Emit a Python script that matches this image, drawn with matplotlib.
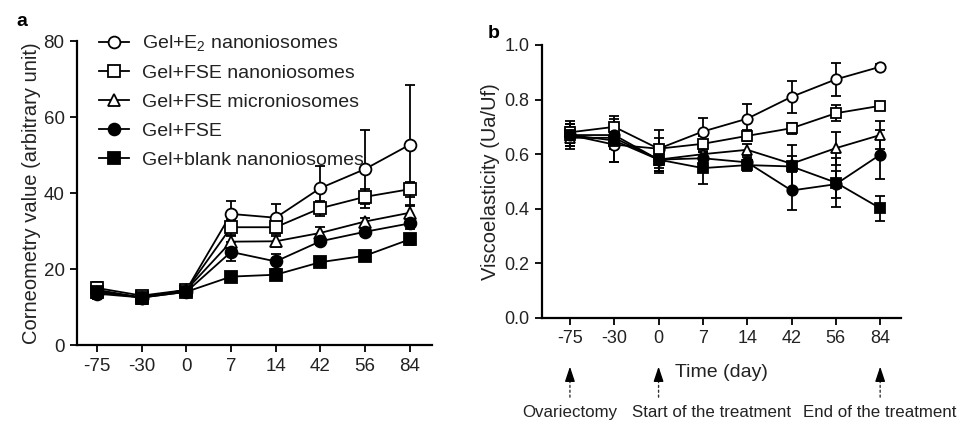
import numpy as np
import matplotlib
matplotlib.use("Agg")
import matplotlib.pyplot as plt
from matplotlib.lines import Line2D

plt.rcParams['font.family'] = ['Liberation Sans', 'DejaVu Sans']
plt.rcParams['mathtext.default'] = 'regular'

days = ['-75', '-30', '0', '7', '14', '42', '56', '84']
names = ['Gel+E$_2$ nanoniosomes', 'Gel+FSE nanoniosomes', 'Gel+FSE microniosomes',
         'Gel+FSE', 'Gel+blank nanoniosomes']

# panel a - corneometry
cor_e2 = [14.5, 12.5, 14.5, 34.5, 33.5, 41.3, 46.3, 52.7]
cor_e2_err = [1.5, 1.0, 1.0, 3.3, 3.5, 5.7, 10.2, 15.8]
cor_nano = [15.0, 13.0, 14.5, 31.0, 31.0, 36.0, 39.0, 41.0]
cor_nano_err = [1.5, 1.0, 1.0, 2.0, 1.8, 2.0, 2.0, 2.0]
cor_micro = [14.0, 12.5, 14.5, 27.2, 27.3, 29.5, 32.5, 34.8]
cor_micro_err = [1.5, 1.0, 1.0, 1.5, 1.5, 1.5, 1.0, 1.8]
cor_fse = [13.5, 12.5, 14.0, 24.5, 22.0, 27.3, 29.8, 32.0]
cor_fse_err = [1.5, 1.0, 1.0, 2.5, 2.0, 1.0, 1.0, 1.5]
cor_blank = [14.0, 12.5, 14.0, 18.0, 18.5, 21.8, 23.5, 27.8]
cor_blank_err = [1.5, 1.0, 1.0, 1.0, 1.0, 0.8, 0.8, 1.5]

# panel b - viscoelasticity
vis_e2 = [0.67, 0.635, 0.62, 0.683, 0.73, 0.81, 0.874, 0.92]
vis_e2_err = [0.04, 0.065, 0.07, 0.05, 0.055, 0.058, 0.06, 0.01]
vis_nano = [0.68, 0.70, 0.62, 0.638, 0.667, 0.695, 0.75, 0.777]
vis_nano_err = [0.04, 0.04, 0.04, 0.03, 0.02, 0.02, 0.03, 0.015]
vis_micro = [0.66, 0.66, 0.58, 0.60, 0.616, 0.565, 0.622, 0.67]
vis_micro_err = [0.04, 0.04, 0.04, 0.03, 0.02, 0.03, 0.06, 0.05]
vis_fse = [0.67, 0.67, 0.58, 0.585, 0.57, 0.467, 0.49, 0.598]
vis_fse_err = [0.04, 0.03, 0.04, 0.03, 0.02, 0.07, 0.05, 0.09]
vis_blank = [0.67, 0.65, 0.58, 0.549, 0.56, 0.555, 0.496, 0.402]
vis_blank_err = [0.04, 0.08, 0.05, 0.06, 0.02, 0.08, 0.09, 0.045]

events = [(0, 'Ovariectomy'), (2, 'Start of the treatment'), (7, 'End of the treatment')]

styles = [dict(marker='o', mfc='white'), dict(marker='s', mfc='white'),
          dict(marker='^', mfc='white'), dict(marker='o', mfc='black'),
          dict(marker='s', mfc='black')]

txt = '#222222'
x = np.arange(len(days))

fig = plt.figure(figsize=(9.71, 4.21), dpi=100)
axa = fig.add_axes([0.0793, 0.1805, 0.3656, 0.722])
axb = fig.add_axes([0.5582, 0.2447, 0.3697, 0.6485])


def draw(ax, series, errs, ms):
    for s, e, st, nm in zip(series, errs, styles, names):
        ax.errorbar(x, s, yerr=e, color='black', lw=1.3, ms=ms, mew=1.3,
                    mec='black', capsize=3.5, capthick=1.3, elinewidth=1.3,
                    **st)
    ax.spines['top'].set_visible(False)
    ax.spines['right'].set_visible(False)
    for sp in ['left', 'bottom']:
        ax.spines[sp].set_linewidth(1.6)
    ax.set_xticks(x)
    ax.set_xticklabels(days)
    ax.tick_params(direction='out', length=5, width=1.3, labelsize=13.5,
                   labelcolor=txt, pad=4)


draw(axa, [cor_e2, cor_nano, cor_micro, cor_fse, cor_blank],
     [cor_e2_err, cor_nano_err, cor_micro_err, cor_fse_err, cor_blank_err], 8.5)
axa.set_xlim(-0.45, 7.5)
axa.set_ylim(0, 80)
axa.set_yticks([0, 20, 40, 60, 80])
axa.set_ylabel('Corneometry value (arbitrary unit)', fontsize=14.5, color=txt, labelpad=2)
handles = [Line2D([], [], color='black', lw=1.3, ms=8.5, mew=1.3, mec='black', **st)
           for st in styles]
leg = axa.legend(handles, names, loc='upper left', bbox_to_anchor=(0.025, 1.07),
                 frameon=False, fontsize=14, handlelength=1.5, handletextpad=0.7,
                 labelspacing=0.58, borderpad=0.2)
for lbl in leg.get_texts():
    lbl.set_color(txt)

draw(axb, [vis_e2, vis_nano, vis_micro, vis_fse, vis_blank],
     [vis_e2_err, vis_nano_err, vis_micro_err, vis_fse_err, vis_blank_err], 7.5)
axb.set_xlim(-0.63, 7.47)
axb.set_ylim(0, 1.0)
axb.set_yticks([0, 0.2, 0.4, 0.6, 0.8, 1.0])
axb.set_yticklabels(['0.0', '0.2', '0.4', '0.6', '0.8', '1.0'])
axb.tick_params(labelsize=13)
axb.set_ylabel('Viscoelasticity (Ua/Uf)', fontsize=14.5, color=txt, labelpad=3)
axb.set_xlabel('Time (day)', fontsize=14, color=txt, labelpad=12)

tr = axb.get_xaxis_transform()
for pos, label in events:
    # dotted shaft
    axb.annotate('', xy=(pos, -0.2), xytext=(pos, -0.29), xycoords=tr, textcoords=tr,
                 arrowprops=dict(arrowstyle='-', color='#333333', lw=1.0, ls=(0, (1.5, 2)),
                                 shrinkA=0, shrinkB=0),
                 annotation_clip=False)
    # solid head
    axb.annotate('', xy=(pos, -0.178), xytext=(pos, -0.22), xycoords=tr, textcoords=tr,
                 arrowprops=dict(arrowstyle='-|>,head_length=0.9,head_width=0.3',
                                 color='black', lw=1.0, shrinkA=0, shrinkB=0),
                 annotation_clip=False)
    if pos == 2:
        axb.text(pos - 0.6, -0.345, label, transform=tr, ha='left', va='center',
                 fontsize=12.2, color=txt)
    else:
        axb.text(pos, -0.345, label, transform=tr, ha='center', va='center',
                 fontsize=12.2, color=txt)

fig.text(22 / 971, 1 - 22 / 421, 'a', fontsize=14, fontweight='bold', ha='center', va='center')
fig.text(494 / 971, 1 - 33 / 421, 'b', fontsize=14, fontweight='bold', ha='center', va='center')

fig.savefig('out.png', dpi=100)
